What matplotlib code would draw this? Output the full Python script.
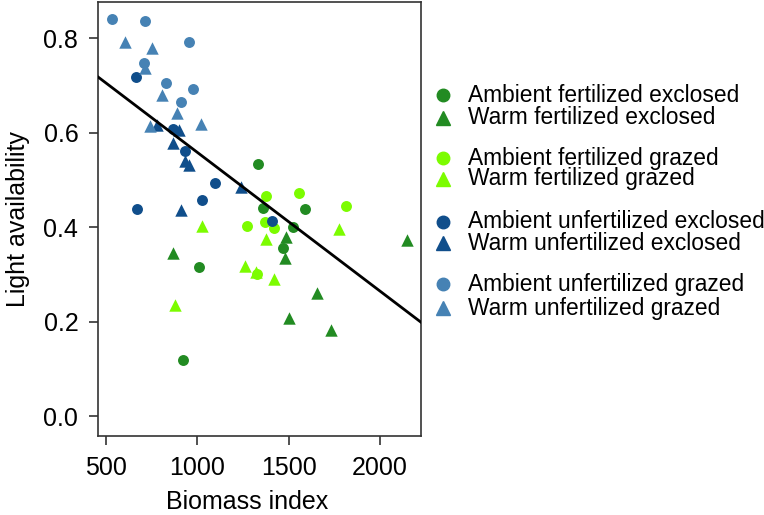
import numpy as np
import matplotlib.pyplot as plt
from matplotlib.lines import Line2D

plt.rcParams['font.family'] = ['Liberation Sans', 'DejaVu Sans']

# Ambient fertilized exclosed
afe_x = [1331, 1362, 1591, 1524, 1469, 1009, 923]
afe_y = [0.533, 0.440, 0.438, 0.401, 0.355, 0.315, 0.120]
# Warm fertilized exclosed
wfe_x = [1487, 1481, 2149, 1655, 1500, 1732, 868]
wfe_y = [0.379, 0.334, 0.372, 0.260, 0.207, 0.183, 0.346]
# Ambient fertilized grazed
afg_x = [1375, 1558, 1814, 1271, 1372, 1421, 1326]
afg_y = [0.466, 0.473, 0.445, 0.402, 0.410, 0.399, 0.300]
# Warm fertilized grazed
wfg_x = [1024, 1774, 1375, 1262, 1322, 1421, 878]
wfg_y = [0.402, 0.397, 0.376, 0.317, 0.306, 0.291, 0.236]
# Ambient unfertilized exclosed
aue_x = [662, 868, 929, 1097, 1024, 667, 1408]
aue_y = [0.718, 0.607, 0.561, 0.493, 0.458, 0.439, 0.412]
# Warm unfertilized exclosed
wue_x = [896, 868, 932, 951, 1238, 909, 777]
wue_y = [0.605, 0.577, 0.539, 0.531, 0.486, 0.437, 0.616]
# Ambient unfertilized grazed
aug_x = [530, 713, 956, 704, 827, 973, 909]
aug_y = [0.840, 0.837, 0.792, 0.748, 0.705, 0.692, 0.665]
# Warm unfertilized grazed
wug_x = [603, 750, 713, 805, 887, 740, 1020]
wug_y = [0.792, 0.778, 0.736, 0.679, 0.641, 0.613, 0.619]

# fitted line (model estimate)
fit_intercept = 0.8506
fit_slope = -2.927e-4

groups = [
    ('Ambient fertilized exclosed', afe_x, afe_y, '#228B22', 'o'),
    ('Warm fertilized exclosed', wfe_x, wfe_y, '#228B22', '^'),
    ('Ambient fertilized grazed', afg_x, afg_y, '#7CFC00', 'o'),
    ('Warm fertilized grazed', wfg_x, wfg_y, '#7CFC00', '^'),
    ('Ambient unfertilized exclosed', aue_x, aue_y, '#104E8B', 'o'),
    ('Warm unfertilized exclosed', wue_x, wue_y, '#104E8B', '^'),
    ('Ambient unfertilized grazed', aug_x, aug_y, '#4682B4', 'o'),
    ('Warm unfertilized grazed', wug_x, wug_y, '#4682B4', '^'),
]

fig = plt.figure(figsize=(7.64, 5.15), dpi=100)
ax = fig.add_axes([0.128, 0.153, 0.423, 0.843])

for name, gx, gy, col, mk in groups:
    s = 62 if mk == 'o' else 80
    ax.scatter(gx, gy, s=s, c=col, marker=mk, linewidths=0, zorder=2)

xlim = (453, 2226)
xx = np.array(xlim)
ax.plot(xx, fit_intercept + fit_slope * xx, color='black', lw=2, zorder=3)

ax.set_xlim(xlim)
ax.set_ylim(-0.042, 0.876)
ax.set_xticks([500, 1000, 1500, 2000])
ax.set_yticks([0.0, 0.2, 0.4, 0.6, 0.8])
ax.set_yticklabels(['0.0', '0.2', '0.4', '0.6', '0.8'])
ax.tick_params(labelsize=18, length=6.5, width=1.2, color='#333333', pad=7.5)
for sp in ax.spines.values():
    sp.set_color('#333333')
    sp.set_linewidth(1.2)
ax.set_xlabel('Biomass index', fontsize=18, labelpad=11)
ax.xaxis.set_label_coords(0.462, -0.125)
ax.set_ylabel('Light availability', fontsize=18, labelpad=10)

# legend, drawn entry by entry (pairs with a gap between them)
leg_rows = [95, 118, 158, 179, 222, 243, 284, 308]
for (name, gx, gy, col, mk), ry in zip(groups, leg_rows):
    fy = 1 - ry / 515
    ms = 9 if mk == 'o' else 10
    fig.add_artist(Line2D([443 / 764], [fy], transform=fig.transFigure, marker=mk,
                          color=col, linestyle='none', markersize=ms))
    fig.text(468 / 764, fy, name, fontsize=16.4, va='center', ha='left')

fig.savefig('out.png', dpi=100)
